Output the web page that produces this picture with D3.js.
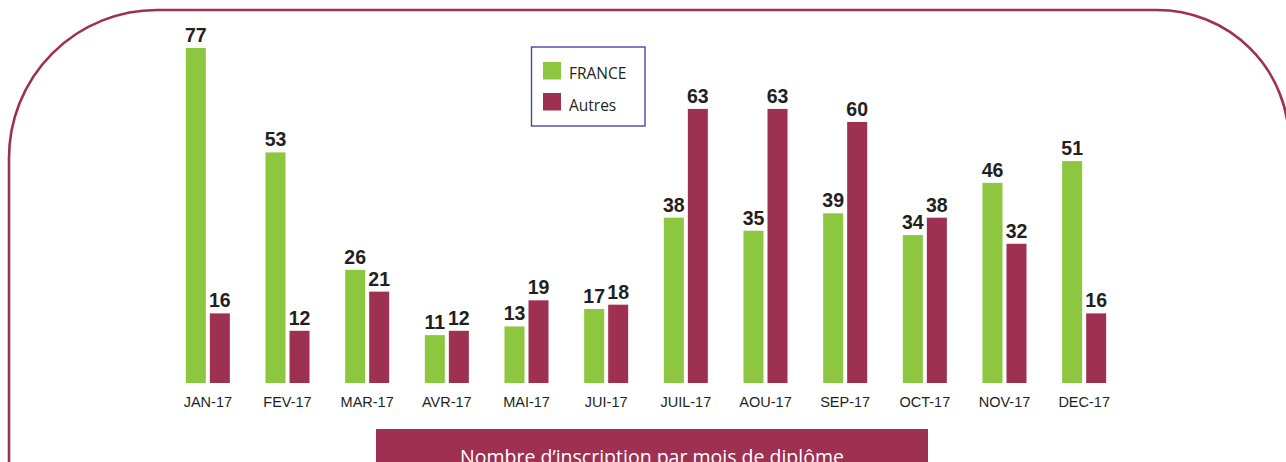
<!DOCTYPE html>
<html>
<head>
<meta charset="utf-8">
<script src="https://cdn.jsdelivr.net/npm/d3@7"></script>
<style>
  html, body { margin: 0; padding: 0; background: #ffffff; overflow: hidden; }
  svg { display: block; }
</style>
</head>
<body>
<svg id="chart" width="1286" height="462"></svg>
<script>
const months = ["JAN-17", "FEV-17", "MAR-17", "AVR-17", "MAI-17", "JUI-17", "JUIL-17", "AOU-17", "SEP-17", "OCT-17", "NOV-17", "DEC-17"];
const seriesNames = ["FRANCE", "Autres"];
const franceValues = [77, 53, 26, 11, 13, 17, 38, 35, 39, 34, 46, 51];
const autresValues = [16, 12, 21, 12, 19, 18, 63, 63, 60, 38, 32, 16];
const seriesColors = ["#8dc63f", "#9e3052"];
const chartTitle = "Nombre d\u2019inscription par mois de diplôme";

const svg = d3.select("#chart");
const maroon = "#9e3052";

// Rounded frame (bottom extends beyond the view)
const L = 9, T = 10, R = 1289, B = 700, rl = 148, rr = 132;
const framePath = d3.path();
framePath.moveTo(L, B);
framePath.lineTo(L, T + rl);
framePath.arcTo(L, T, L + rl, T, rl);
framePath.lineTo(R - rr, T);
framePath.arcTo(R, T, R, T + rr, rr);
framePath.lineTo(R, B);
svg.append("path")
  .attr("d", framePath.toString())
  .attr("fill", "none")
  .attr("stroke", maroon)
  .attr("stroke-width", 2.6);

// Scales
const baseline = 383;
const x0 = d3.scaleBand()
  .domain(months)
  .range([168, 1124])
  .paddingInner(0.4475)
  .paddingOuter(0.4475 / 2);
const x1 = d3.scaleBand()
  .domain(seriesNames)
  .range([0, x0.bandwidth()])
  .paddingInner(4 / 24)
  .paddingOuter(0);
const y = d3.scaleLinear().domain([0, 77]).range([baseline, 48]);

const rows = months.map((m, i) => ({
  month: m,
  values: [
    { key: seriesNames[0], value: franceValues[i], color: seriesColors[0] },
    { key: seriesNames[1], value: autresValues[i], color: seriesColors[1] }
  ]
}));

const groups = svg.append("g").selectAll("g")
  .data(rows)
  .join("g")
  .attr("transform", d => `translate(${x0(d.month)},0)`);

groups.selectAll("rect")
  .data(d => d.values)
  .join("rect")
  .attr("x", d => x1(d.key))
  .attr("y", d => y(d.value))
  .attr("width", x1.bandwidth())
  .attr("height", d => baseline - y(d.value))
  .attr("fill", d => d.color);

groups.selectAll("text.val")
  .data(d => d.values)
  .join("text")
  .attr("class", "val")
  .attr("x", d => x1(d.key) + x1.bandwidth() / 2)
  .attr("y", d => y(d.value) - 6)
  .attr("text-anchor", "middle")
  .attr("font-family", "'Liberation Sans', Arial, sans-serif")
  .attr("font-weight", "bold")
  .attr("font-size", 19.5)
  .attr("fill", "#231f20")
  .text(d => d.value);

// X axis labels
const xAxis = d3.axisBottom(x0).tickSize(0).tickPadding(0);
const axisG = svg.append("g")
  .attr("transform", `translate(0,${baseline})`)
  .call(xAxis);
axisG.select(".domain").remove();
axisG.selectAll("text")
  .attr("dy", null)
  .attr("y", 24)
  .attr("font-family", "'Liberation Sans', Arial, sans-serif")
  .attr("font-size", 14.5)
  .attr("fill", "#231f20");

// Legend
const legend = svg.append("g");
legend.append("rect")
  .attr("x", 531.5).attr("y", 47)
  .attr("width", 113.5).attr("height", 79)
  .attr("fill", "#ffffff")
  .attr("stroke", "#4646a6")
  .attr("stroke-width", 1.4);
seriesNames.forEach((name, i) => {
  legend.append("rect")
    .attr("x", 543).attr("y", 62 + i * 31)
    .attr("width", 18).attr("height", 17.5)
    .attr("fill", seriesColors[i]);
  legend.append("text")
    .attr("x", 569).attr("y", 79.3 + i * 31.4)
    .attr("font-family", "'Open Sans', sans-serif")
    .attr("font-size", 15.5)
    .attr("fill", "#231f20")
    .text(name);
});

// Title box
svg.append("rect")
  .attr("x", 376).attr("y", 429)
  .attr("width", 552).attr("height", 60)
  .attr("fill", maroon);
svg.append("text")
  .attr("x", 652).attr("y", 463.5)
  .attr("text-anchor", "middle")
  .attr("font-family", "'Open Sans', sans-serif")
  .attr("font-size", 19.5)
  .attr("fill", "#ffffff")
  .text(chartTitle);
</script>
</body>
</html>
